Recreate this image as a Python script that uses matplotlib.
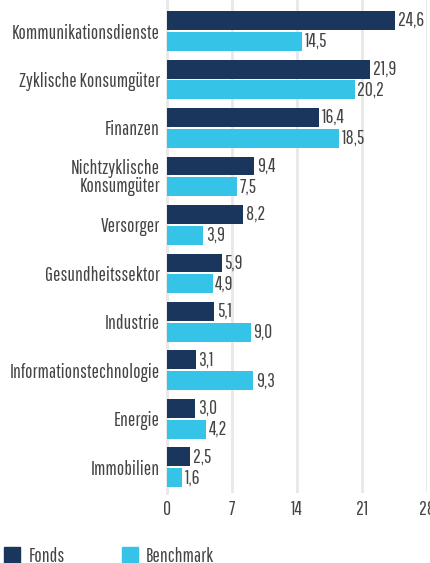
import matplotlib.pyplot as plt
import numpy as np
from matplotlib.patches import Rectangle

plt.rcParams['font.family'] = ['Pathway Gothic One', 'Roboto Condensed', 'DejaVu Sans']

# sector weights in %
sectors = ["Kommunikationsdienste", "Zyklische Konsumgüter", "Finanzen",
           "Nichtzyklische\nKonsumgüter", "Versorger", "Gesundheitssektor",
           "Industrie", "Informationstechnologie", "Energie", "Immobilien"]
fonds = [24.6, 21.9, 16.4, 9.4, 8.2, 5.9, 5.1, 3.1, 3.0, 2.5]
benchmark = [14.5, 20.2, 18.5, 7.5, 3.9, 4.9, 9.0, 9.3, 4.2, 1.6]
xticks = [0, 7, 14, 21, 28]

dark = "#1b365d"
light = "#35c4e8"
txt = "#444444"
fs = 14

fig = plt.figure(figsize=(4.3, 5.63), dpi=100)
ax = fig.add_axes([167 / 430, 1 - 493 / 563, 260 / 430, 493 / 563])

y = np.arange(len(sectors))
h = 0.39
off = 0.215
ax.barh(y - off, fonds, height=h, color=dark, zorder=3)
ax.barh(y + off, benchmark, height=h, color=light, zorder=3)

for i in range(len(sectors)):
    ax.text(fonds[i] + 0.3, y[i] - off, f"{fonds[i]:.1f}".replace(".", ","),
            va="center", ha="left", fontsize=fs, color=txt)
    ax.text(benchmark[i] + 0.3, y[i] + off, f"{benchmark[i]:.1f}".replace(".", ","),
            va="center", ha="left", fontsize=fs, color=txt)

ax.set_ylim(len(sectors) - 1 + 0.53, -0.64)
ax.set_xlim(0, 28)
ax.set_yticks(y)
ax.set_yticklabels(sectors, fontsize=fs, color=txt, linespacing=0.9)
ax.set_xticks(xticks)
ax.set_xticklabels([str(t) for t in xticks], fontsize=fs, color=txt)
ax.tick_params(length=0, pad=5)
ax.tick_params(axis="x", pad=5)
ax.grid(axis="x", color="#e8e8e8", linewidth=2, zorder=0)
for s in ["top", "right", "bottom"]:
    ax.spines[s].set_visible(False)
ax.spines["left"].set_color("#e8e8e8")
ax.spines["left"].set_linewidth(2)

# legend
fig.patches.append(Rectangle((4 / 430, 0), 16 / 430, 16 / 563,
                             transform=fig.transFigure, color=dark))
fig.text(29 / 430, 1 - 556 / 563, "Fonds", fontsize=fs, color=txt, va="center")
fig.patches.append(Rectangle((122 / 430, 0), 16 / 430, 16 / 563,
                             transform=fig.transFigure, color=light))
fig.text(146 / 430, 1 - 556 / 563, "Benchmark", fontsize=fs, color=txt, va="center")

fig.savefig("out.png", dpi=100)
